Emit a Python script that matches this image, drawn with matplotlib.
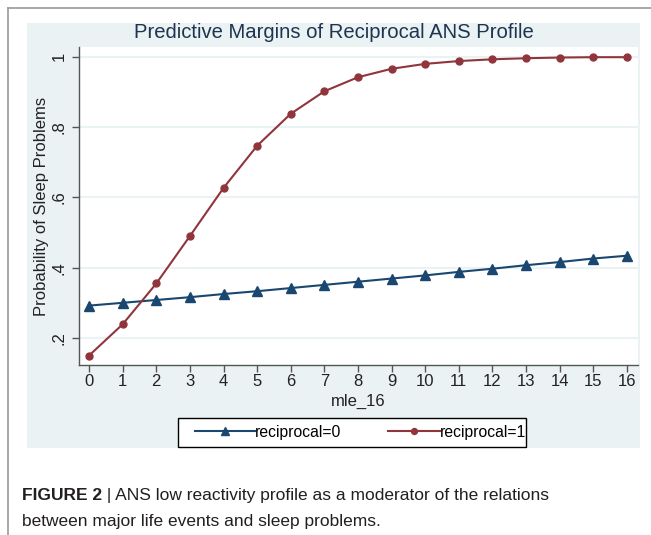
import matplotlib
matplotlib.use("Agg")
import matplotlib.pyplot as plt
from matplotlib.lines import Line2D
from matplotlib.patches import Rectangle

# margins
mle_16 = list(range(17))
recip_0 = [0.292, 0.300, 0.308, 0.316, 0.325, 0.333, 0.342, 0.351, 0.360,
           0.369, 0.378, 0.388, 0.397, 0.407, 0.416, 0.426, 0.434]
recip_1 = [0.150, 0.239, 0.355, 0.490, 0.627, 0.747, 0.838, 0.902, 0.942,
           0.966, 0.980, 0.988, 0.993, 0.996, 0.998, 0.999, 0.999]
y_ticks = [0.2, 0.4, 0.6, 0.8, 1.0]
y_tick_labels = [".2", ".4", ".6", ".8", "1"]

plt.rcParams["font.family"] = ["Liberation Sans", "DejaVu Sans"]

navy = "#1A476F"
maroon = "#90353B"
region_bg = "#EAF2F3"

W, H = 651, 535
fig = plt.figure(figsize=(W / 100, H / 100), dpi=100)

# stata graph region (behind the axes)
fig.patches.append(Rectangle((27 / W, 1 - 448 / H), 613 / W, 425 / H,
                             transform=fig.transFigure, facecolor=region_bg,
                             edgecolor="none", zorder=-2))
# legend box
fig.patches.append(Rectangle((178 / W, 1 - 447 / H), 348 / W, 29 / H,
                             transform=fig.transFigure, facecolor="white",
                             edgecolor="black", lw=1.0, zorder=-1))
# outer frame of the figure panel (only left/top visible)
fig.lines.append(Line2D([8 / W, 8 / W], [0, 1 - 8 / H], transform=fig.transFigure,
                        color="#9a9a9a", lw=1.2))
fig.lines.append(Line2D([8 / W, 1], [1 - 8 / H, 1 - 8 / H], transform=fig.transFigure,
                        color="#9a9a9a", lw=1.2))

ax = fig.add_axes([79 / W, 1 - 365 / H, 559 / W, 318 / H])
ax.set_facecolor("white")

l0, = ax.plot(mle_16, recip_0, color=navy, lw=1.5, marker="^", ms=7, label="reciprocal=0", zorder=3)
l1, = ax.plot(mle_16, recip_1, color=maroon, lw=1.5, marker="o", ms=5, label="reciprocal=1", zorder=3)

ax.set_xlim(-0.30, 16.33)
ax.set_ylim(0.123, 1.028)
ax.set_xticks(mle_16)
ax.set_yticks(y_ticks)
ax.set_yticklabels(y_tick_labels)
for y in y_ticks:
    ax.axhline(y, color=region_bg, lw=1.5, zorder=1)

for s in ["top", "right"]:
    ax.spines[s].set_visible(False)
for s in ["left", "bottom"]:
    ax.spines[s].set_color("#555555")
    ax.spines[s].set_linewidth(1.0)

ax.tick_params(axis="both", direction="out", length=5, width=1, color="#555555",
               labelsize=12, labelcolor="#222222")
ax.tick_params(axis="x", pad=1.5)
ax.tick_params(axis="y", pad=4)
for lab in ax.get_yticklabels():
    lab.set_rotation(90)
    lab.set_va("center")

ax.set_xlabel("mle_16", fontsize=12, color="#222222", labelpad=3.5)
fig.text(42 / W, 1 - 206 / H, "Probability of Sleep Problems", rotation=90,
         ha="center", va="center", fontsize=12, color="#222222")

fig.text(334 / W, 1 - 32.5 / H, "Predictive Margins of Reciprocal ANS Profile",
         ha="center", va="center", fontsize=14.6, color="#1E3550")

# stata keys: one legend per entry so each key gets its own length
leg_kw = dict(loc="center left", fontsize=11.3, frameon=False, handletextpad=0.0,
              borderpad=0, borderaxespad=0, markerscale=0.85)
fig.legend([l0], ["reciprocal=0"], bbox_to_anchor=(195 / W, 1 - 432 / H),
           handlelength=3.8, **leg_kw)
fig.legend([l1], ["reciprocal=1"], bbox_to_anchor=(388 / W, 1 - 432 / H),
           handlelength=3.3, **leg_kw)

# caption
cap_kw = dict(fontsize=12.5, color="#231F20", va="baseline")
t1 = fig.text(22 / W, 1 - 500 / H, "FIGURE 2", fontweight="bold", **cap_kw)
fig.canvas.draw()
bb = t1.get_window_extent()
fig.text(bb.x1 / W, 1 - 500 / H, " | ANS low reactivity profile as a moderator of the relations", **cap_kw)
fig.text(22 / W, 1 - 526 / H, "between major life events and sleep problems.", **cap_kw)

fig.savefig("out.png", dpi=100)
